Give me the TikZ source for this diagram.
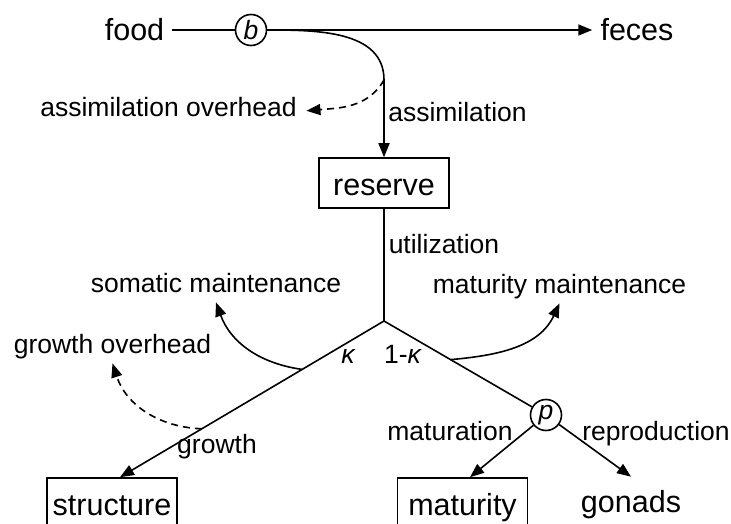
\documentclass[tikz,border=0pt]{standalone}
\usepackage{fontspec}
\setmainfont{Liberation Sans}
\usetikzlibrary{arrows.meta}

\begin{document}
\begin{tikzpicture}[x=10pt,y=10pt,line width=1.6pt,
  >={Triangle[length=14pt,width=11pt]},
  flow/.style={->},
  over/.style={->,dash pattern=on 7pt off 5pt},
  lbl/.style={inner sep=3pt,text height=19pt,text depth=6.6pt,font=\fontsize{26.5pt}{30pt}\selectfont},
  big/.style={inner sep=7.5pt,text height=22pt,text depth=0pt,font=\fontsize{30.5pt}{34pt}\selectfont},
  pool/.style={draw,minimum width=130pt,minimum height=50pt,inner sep=0pt,text height=24pt,text depth=0pt,font=\fontsize{30.5pt}{34pt}\selectfont},
  switch/.style={draw,circle,inner sep=0pt,minimum size=31pt,font=\fontsize{26.5pt}{30pt}\selectfont\itshape}]
\useasboundingbox (0,0) rectangle (73.1,-52.4);
% pools and switches
\node [big] (food) at (13.45,-3.0) {food};
\node [switch] (b) at (25.1,-3.0) {b};
\node [big] (feces) at (63.7,-3.0) {feces};
\node [pool] (reserve) at (38.4,-18.3) {reserve};
\node [pool] (structure) at (11.2,-50.3) {structure};
\node [pool] (maturity) at (46.25,-50.3) {maturity};
\node [big] (gonads) at (63.1,-50.1) {gonads};
\node [switch] (p) at (54.6,-41.5) {p};
\coordinate (asplit) at (38.4,-8.0);
\coordinate (jn) at (38.4,-32.1);
% labels
\node [lbl] (aover) at (16.85,-11.08) {assimilation overhead};
\node [lbl] (assim) at (45.75,-11.55) {assimilation};
\node [lbl] (util) at (44.4,-24.7) {utilization};
\node [lbl] (smaint) at (21.6,-28.58) {somatic maintenance};
\node [lbl] (mmaint) at (55.95,-28.68) {maturity maintenance};
\node [lbl] (gover) at (11.25,-34.68) {growth overhead};
\node [lbl] (kappa) at (34.8,-35.68) {{\itshape κ}};
\node [lbl] (onemk) at (40.25,-35.68) {1-{\itshape κ}};
\node [lbl] (growth) at (21.7,-44.7) {growth};
\node [lbl] (maturation) at (45.0,-43.38) {maturation};
\node [lbl] (repro) at (65.6,-43.38) {reproduction};
% fluxes
\draw (food) -- (b);
\draw [flow] (b) -- (feces);
\draw [flow] (b.east) to[out=0,in=90] (asplit) -- (reserve);
\draw [over] (asplit) to[out=-120,in=5] ([xshift=6pt]aover.east);
\draw (reserve) -- (jn);
\draw [flow] (jn) -- ([xshift=8pt]structure.north) coordinate[pos=0.31] (ksplit) coordinate[pos=0.69] (gsplit);
\draw (jn) -- (p) coordinate[pos=0.45] (msplit);
\draw [flow] (ksplit) to[out=172,in=-70] (smaint.south);
\draw [flow] (msplit) to[out=5,in=-115] (mmaint.south);
\draw [over] (gsplit) to[out=178,in=-72] (gover.south);
\draw [flow] (p) -- ([xshift=7.5pt]maturity.north);
\draw [flow] (p) -- ([yshift=5pt]gonads.north);
\end{tikzpicture}
\end{document}
